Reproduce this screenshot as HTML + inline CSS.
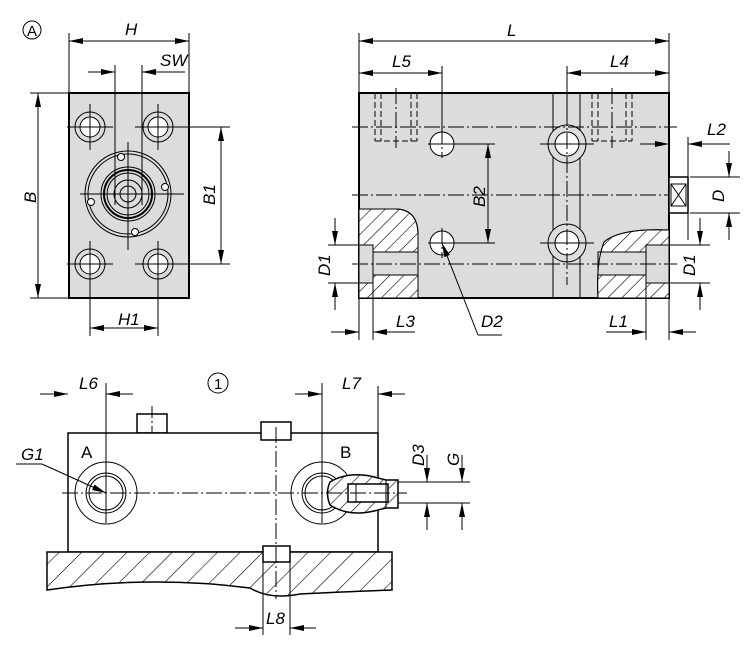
<!DOCTYPE html>
<html><head><meta charset="utf-8"><style>
html,body{margin:0;padding:0;background:#fff}
svg{display:block}
text{font-family:"Liberation Sans",sans-serif;font-style:italic;font-size:17px;fill:#000}
text.n{font-style:normal;font-size:15px}
</style></head><body>
<svg width="750" height="650" viewBox="0 0 750 650" xmlns="http://www.w3.org/2000/svg">
<defs>
<marker id="a" viewBox="0 0 14 6" refX="14" refY="3" markerWidth="14" markerHeight="6" markerUnits="userSpaceOnUse" orient="auto-start-reverse"><path d="M0,0 L14,3 L0,6 z" fill="#000"/></marker>
<pattern id="h" patternUnits="userSpaceOnUse" width="10" height="10" patternTransform="rotate(45)"><rect width="10" height="10" fill="#fff"/><line x1="0" y1="0" x2="0" y2="10" stroke="#000" stroke-width="1.2"/></pattern>
<pattern id="h2" patternUnits="userSpaceOnUse" width="16" height="16" patternTransform="rotate(45)"><rect width="16" height="16" fill="#fff"/><line x1="0" y1="0" x2="0" y2="16" stroke="#000" stroke-width="1.2"/></pattern>
</defs>
<g stroke="#000" fill="none" stroke-width="1">

<!-- VIEW A -->
<circle cx="32" cy="30" r="9"/>
<rect x="69" y="93" width="120" height="205" fill="#dcdcdc" stroke-width="2"/>
<g>
<circle cx="90" cy="127" r="15"/><circle cx="90" cy="127" r="10" fill="#fff"/>
<circle cx="158" cy="127" r="15"/><circle cx="158" cy="127" r="10" fill="#fff"/>
<circle cx="90" cy="264" r="15"/><circle cx="90" cy="264" r="10" fill="#fff"/>
<circle cx="158" cy="264" r="15"/><circle cx="158" cy="264" r="10" fill="#fff"/>
<path d="M67,127h46M90,104v46M135,127h46M158,104v46M67,264h46M90,241v46M135,264h46M158,241v46"/>
</g>
<circle cx="128" cy="194" r="43"/><circle cx="128" cy="194" r="40"/>
<circle cx="128" cy="194" r="27"/><circle cx="128" cy="194" r="24" stroke-width="2"/>
<circle cx="128" cy="194" r="21"/><circle cx="128" cy="194" r="14"/><circle cx="128" cy="194" r="8"/>
<circle cx="121" cy="157" r="3.5" fill="#fff"/><circle cx="165" cy="187" r="3.5" fill="#fff"/><circle cx="91" cy="202" r="3.5" fill="#fff"/><circle cx="135" cy="232" r="3.5" fill="#fff"/>
<path d="M80,194h104M128,142v108"/>
<path d="M115,65v140M142,65v140"/>
<path d="M69,33v60M189,33v60"/>
<line x1="69" y1="41" x2="189" y2="41" marker-start="url(#a)" marker-end="url(#a)"/>
<line x1="88" y1="72" x2="115" y2="72" marker-end="url(#a)"/>
<line x1="185" y1="72" x2="142" y2="72" marker-end="url(#a)"/>
<path d="M189,72v20"/>
<path d="M30,93h39M30,298h39"/>
<line x1="38" y1="93" x2="38" y2="298" marker-start="url(#a)" marker-end="url(#a)"/>
<path d="M175,127h55M175,264h55"/>
<line x1="221" y1="127" x2="221" y2="264" marker-start="url(#a)" marker-end="url(#a)"/>
<path d="M90,280v56M158,280v56"/>
<line x1="90" y1="328" x2="158" y2="328" marker-start="url(#a)" marker-end="url(#a)"/>

<!-- SIDE VIEW -->
<rect x="359" y="93" width="310" height="205" fill="#dcdcdc" stroke-width="2"/>
<path d="M359,209 H395 Q418,209 418,235 V298 H359 Z" fill="url(#h)"/>
<rect x="359" y="245" width="14" height="38" fill="#dcdcdc"/>
<rect x="373" y="252" width="45" height="23" fill="#dcdcdc"/>
<path d="M395,209 Q418,209 418,235 V298"/>
<path d="M359,245h14v38h-14M373,252h45M373,275h45"/>
<path d="M669,230 Q620,228 604,242 Q596,262 598,298 H669 Z" fill="url(#h)"/>
<rect x="646" y="245" width="23" height="38" fill="#dcdcdc"/>
<rect x="598" y="252" width="48" height="23" fill="#dcdcdc"/>
<path d="M669,230 Q620,228 604,242 Q596,262 598,298"/>
<path d="M669,245h-23v38h23M598,252h48M598,275h48"/>
<path d="M553,93V131M580,93V131M553,157V230M580,157V230M553,256V298M580,256V298"/>
<circle cx="567" cy="144" r="19"/><circle cx="567" cy="243" r="19"/>
<circle cx="567" cy="144" r="12" fill="#fff"/><circle cx="567" cy="243" r="12" fill="#fff"/>
<circle cx="442" cy="144" r="12" fill="#fff"/><circle cx="442" cy="243" r="12" fill="#fff"/>
<g stroke-dasharray="6,3"><path d="M375,93v48M381,93v48M411,93v48M417,93v48M375,141h42M592,93v48M598,93v48M626,93v48M632,93v48M592,141h40"/></g>
<g stroke-dasharray="16,3,2,3"><path d="M352,127h325M352,195h325M352,264h325M567,85v200M396,88v60M612,88v60M442,128v30M442,228v30"/></g>
<path d="M428,144h28M428,243h28M540,144h54M540,243h54"/>
<rect x="669" y="177" width="19" height="36" fill="#fff" stroke-width="1.5"/>
<path d="M671,184h15v22h-15zM671,184l15,22M686,184l-15,22"/>
<path d="M359,33v60M669,33v60M442,66v64M567,66v60"/>
<line x1="359" y1="41" x2="669" y2="41" marker-start="url(#a)" marker-end="url(#a)"/>
<line x1="359" y1="73" x2="442" y2="73" marker-start="url(#a)" marker-end="url(#a)"/>
<line x1="567" y1="73" x2="669" y2="73" marker-start="url(#a)" marker-end="url(#a)"/>
<path d="M453,144h42M453,243h42"/>
<line x1="488" y1="144" x2="488" y2="243" marker-start="url(#a)" marker-end="url(#a)"/>
<path d="M688,137v103"/>
<line x1="640" y1="144" x2="669" y2="144" marker-end="url(#a)"/>
<line x1="730" y1="144" x2="688" y2="144" marker-end="url(#a)"/>
<path d="M690,177h50M690,213h50"/>
<line x1="729" y1="151" x2="729" y2="177" marker-end="url(#a)"/>
<line x1="729" y1="240" x2="729" y2="213" marker-end="url(#a)"/>
<path d="M328,245h45M328,283h45"/>
<line x1="335" y1="218" x2="335" y2="245" marker-end="url(#a)"/>
<line x1="335" y1="310" x2="335" y2="283" marker-end="url(#a)"/>
<path d="M660,245h50M660,283h50"/>
<line x1="700" y1="218" x2="700" y2="245" marker-end="url(#a)"/>
<line x1="700" y1="310" x2="700" y2="283" marker-end="url(#a)"/>
<path d="M359,298v42M373,283v57M646,283v57M669,298v42"/>
<line x1="331" y1="332" x2="359" y2="332" marker-end="url(#a)"/>
<line x1="415" y1="332" x2="373" y2="332" marker-end="url(#a)"/>
<line x1="606" y1="332" x2="646" y2="332" marker-end="url(#a)"/>
<line x1="696" y1="332" x2="669" y2="332" marker-end="url(#a)"/>
<line x1="478" y1="335" x2="442" y2="243" marker-end="url(#a)"/>
<path d="M478,335h24"/>

<!-- BOTTOM VIEW -->
<circle cx="218" cy="383" r="10"/>
<rect x="137" y="414" width="30" height="19" fill="#fff" stroke-width="1.5"/>
<path d="M152,406v32" stroke-dasharray="12,3,2,3"/>
<rect x="68" y="433" width="310" height="119" fill="#fff" stroke-width="1.5"/>
<path d="M261,433v-11h30v11M261,433v7h30v-7" fill="#fff" stroke-width="1.5"/>
<path d="M47,552 H392 V590 Q340,592 300,594 Q270,600 250,588 Q150,575 47,590 Z" fill="url(#h2)" stroke-width="1.5"/>
<rect x="263" y="546" width="27" height="16" fill="#fff" stroke-width="1.5"/>
<path d="M263,562v73M290,562v73"/>
<path d="M276,427v172" stroke-dasharray="16,3,2,3"/>
<circle cx="106" cy="493" r="31"/><circle cx="106" cy="493" r="20"/><circle cx="106" cy="493" r="17"/>
<circle cx="322" cy="493" r="31"/><circle cx="322" cy="493" r="20"/><circle cx="322" cy="493" r="17"/>
<path d="M330,482 Q350,470 378,478 L386,480 H398 V508 H386 L378,510 Q350,518 330,505 Q325,493 330,482Z" fill="url(#h)" stroke-width="1.5"/>
<rect x="348" y="484" width="40" height="18" fill="#fff" stroke-width="1.5"/>
<path d="M356,484v18M386,480v28"/>
<path d="M62,493h345" stroke-dasharray="16,3,2,3"/>
<path d="M106,383v140M322,383v140"/>
<path d="M378,386v47"/>
<line x1="40" y1="394" x2="68" y2="394" marker-end="url(#a)"/>
<line x1="133" y1="394" x2="106" y2="394" marker-end="url(#a)"/>
<line x1="295" y1="394" x2="322" y2="394" marker-end="url(#a)"/>
<line x1="405" y1="394" x2="378" y2="394" marker-end="url(#a)"/>
<line x1="235" y1="628" x2="263" y2="628" marker-end="url(#a)"/>
<line x1="316" y1="628" x2="290" y2="628" marker-end="url(#a)"/>
<path d="M398,482h72M398,503h72"/>
<line x1="427" y1="455" x2="427" y2="482" marker-end="url(#a)"/>
<line x1="427" y1="530" x2="427" y2="503" marker-end="url(#a)"/>
<line x1="462" y1="455" x2="462" y2="482" marker-end="url(#a)"/>
<line x1="462" y1="530" x2="462" y2="503" marker-end="url(#a)"/>
<path d="M16,464h26"/>
<line x1="42" y1="464" x2="106" y2="493" marker-end="url(#a)"/>
</g>
<g>
<text x="27" y="36" class="n">A</text>
<text x="125" y="35">H</text>
<text x="160" y="66">SW</text>
<text x="118" y="325">H1</text>
<text transform="translate(36,203) rotate(-90)">B</text>
<text transform="translate(215,205) rotate(-90)">B1</text>
<text x="507" y="36">L</text>
<text x="392" y="67">L5</text>
<text x="610" y="67">L4</text>
<text x="707" y="135">L2</text>
<text transform="translate(485,207) rotate(-90)">B2</text>
<text transform="translate(724,202) rotate(-90)">D</text>
<text transform="translate(330,276) rotate(-90)">D1</text>
<text transform="translate(695,276) rotate(-90)">D1</text>
<text x="396" y="327">L3</text>
<text x="609" y="327">L1</text>
<text x="481" y="327">D2</text>
<text x="214" y="389" class="n">1</text>
<text x="79" y="389">L6</text>
<text x="342" y="389">L7</text>
<text x="266" y="624">L8</text>
<text x="21" y="460">G1</text>
<text x="81" y="458" class="n" style="font-size:17px">A</text>
<text x="340" y="458" class="n" style="font-size:17px">B</text>
<text transform="translate(424,466) rotate(-90)">D3</text>
<text transform="translate(459,466) rotate(-90)">G</text>
</g>
</svg>
</body></html>
